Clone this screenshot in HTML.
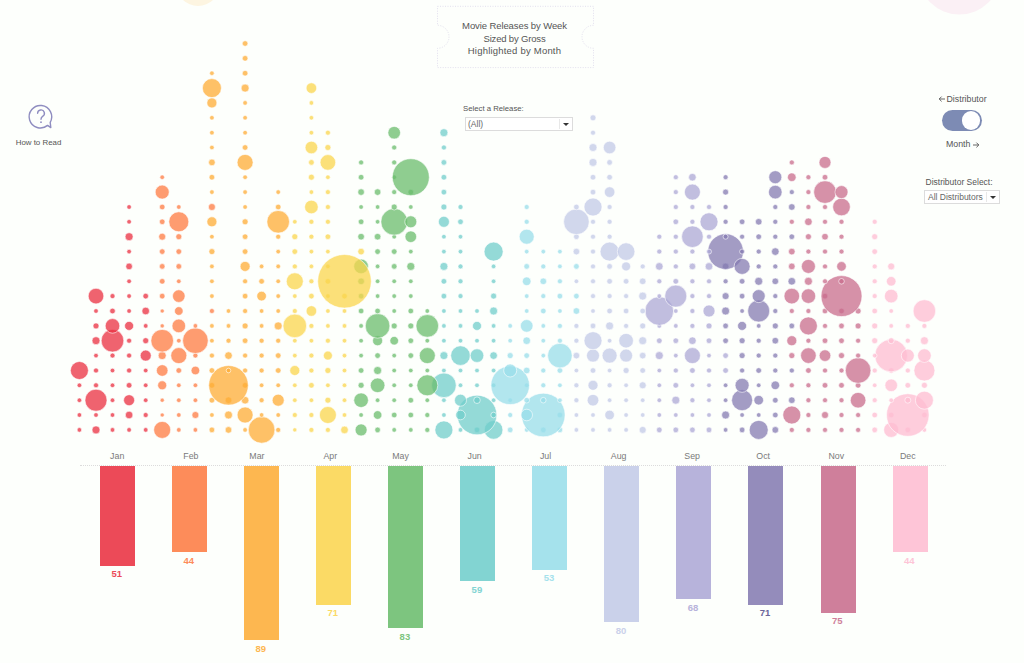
<!DOCTYPE html>
<html><head><meta charset="utf-8"><title>Movie Releases by Week</title>
<style>
html,body{margin:0;padding:0;}
body{width:1024px;height:663px;overflow:hidden;background:#fdfffc;font-family:"Liberation Sans",sans-serif;position:relative;color:#555;}
.abs{position:absolute;}
#dots{position:absolute;left:0;top:0;}
#dots circle{fill-opacity:.75;stroke:#fff;stroke-opacity:.85;stroke-width:.7;}
.mn{position:absolute;top:450.6px;width:60px;text-align:center;font-size:8.8px;color:#7a7a7a;line-height:11px;}
.bar{position:absolute;top:466px;width:35px;}
.bv{position:absolute;width:60px;text-align:center;font-size:9.5px;font-weight:bold;line-height:11px;}
.axis{position:absolute;left:80px;top:465.4px;width:866px;height:0;border-top:1px dotted #dcdcdc;}
.title{position:absolute;left:437px;top:6px;width:157px;height:61px;}
.title div{position:absolute;left:0;width:157px;text-align:center;font-size:9.5px;color:#555;line-height:12px;}
.lbl{position:absolute;font-size:8px;color:#555;white-space:nowrap;line-height:10px;}
.dd{position:absolute;box-sizing:border-box;border:1px solid #dcdcdc;background:#fff;font-size:8.5px;color:#666;line-height:12.5px;padding-left:2px;white-space:nowrap;}
.dd i{position:absolute;right:3px;top:5px;width:0;height:0;border-left:3px solid transparent;border-right:3px solid transparent;border-top:3.5px solid #333;}
.dd b{position:absolute;right:12px;top:1px;bottom:1px;width:0;border-left:1px solid #e8e8e8;}
</style></head><body>
<svg id="deco" class="abs" style="left:0;top:0" width="1024" height="40">
<circle cx="198" cy="-15.8" r="21.8" fill="#fdf5e1"/>
<circle cx="959.4" cy="-26.4" r="41" fill="#fbf0f5"/>
</svg>
<svg class="title" viewBox="0 0 157 61" width="157" height="61" style="overflow:visible">
<path d="M0.5 0.3 H156.5 V19.3 A11.5 11.5 0 0 0 156.5 42.3 V61.6 H0.5 V42.3 A11.5 11.5 0 0 0 0.5 19.3 Z" fill="none" stroke="#e2dfee" stroke-width="1" stroke-dasharray="1 1.5"/>
</svg>
<div class="title" style="left:436px"><div style="top:13.7px;letter-spacing:-0.1px">Movie Releases by Week</div><div style="top:26.5px;letter-spacing:-0.17px">Sized by Gross</div><div style="top:38.6px;letter-spacing:0.21px">Highlighted by Month</div></div>

<svg class="abs" style="left:24.6px;top:100px" width="32" height="34" viewBox="0 0 32 34">
<path d="M22.6 25.4 A11.25 11.25 0 1 1 25.2 22.3 L25.8 27.6 Z" fill="none" stroke="#8f8dc0" stroke-width="1.4" stroke-linejoin="round"/>
<path d="M12.6 13.2 A3.4 3.4 0 1 1 17.6 16.3 Q16 17.3 16 19.2" fill="none" stroke="#8f8dc0" stroke-width="1.4" stroke-linecap="round"/>
<circle cx="16" cy="22.2" r="0.9" fill="#8f8dc0"/>
</svg>
<div class="lbl" style="left:0;width:77px;text-align:center;top:137.6px;font-size:7.9px">How to Read</div>

<div class="lbl" style="left:463px;top:103.7px;font-size:7.75px">Select a Release:</div>
<div class="dd" style="left:465px;top:117px;width:108px;height:14px;">(All)<b></b><i></i></div>

<div class="lbl" style="left:946.5px;top:94.3px;font-size:8.8px">Distributor</div><svg class="abs" style="left:937.5px;top:94.8px" width="8" height="8" viewBox="0 0 8 8"><path d="M7 4 H1.2 M3.6 1.6 L1.2 4 L3.6 6.4" fill="none" stroke="#555" stroke-width="0.9"/></svg>
<div class="abs" style="left:941.6px;top:110.2px;width:40px;height:21px;border-radius:11px;background:#7d8bb4;"><div class="abs" style="right:1.3px;top:1.3px;width:18.4px;height:18.4px;border-radius:50%;background:#fff;"></div></div>
<div class="lbl" style="left:946px;top:139.3px;font-size:8.8px">Month</div><svg class="abs" style="left:971.5px;top:140.5px" width="8" height="8" viewBox="0 0 8 8"><path d="M1 4 H6.8 M4.4 1.6 L6.8 4 L4.4 6.4" fill="none" stroke="#555" stroke-width="0.9"/></svg>
<div class="lbl" style="left:925.5px;top:177px;font-size:8.5px">Distributor Select:</div>
<div class="dd" style="left:924px;top:190px;width:76px;height:14px;padding-left:3px">All Distributors<b></b><i></i></div>

<svg id="dots" width="1024" height="463" viewBox="0 0 1024 463">
<circle cx="261.6" cy="429.9" r="13.3" fill="#fdac36"/>
<circle cx="758.7" cy="429.9" r="9.5" fill="#847bb1"/>
<circle cx="493.6" cy="429.9" r="9.3" fill="#70cecb"/>
<circle cx="443.9" cy="429.9" r="9.0" fill="#70cecb"/>
<circle cx="162.2" cy="429.9" r="8.5" fill="#fd7b42"/>
<circle cx="891.2" cy="429.9" r="7.5" fill="#febcd1"/>
<circle cx="361.1" cy="429.9" r="6.0" fill="#6abc6c"/>
<circle cx="96.0" cy="429.9" r="4.0" fill="#e92f40"/>
<circle cx="344.5" cy="429.9" r="3.8" fill="#fad54e"/>
<circle cx="642.7" cy="429.9" r="3.5" fill="#c2cae7"/>
<circle cx="228.5" cy="429.9" r="3.3" fill="#fdac36"/>
<circle cx="775.3" cy="429.9" r="3.3" fill="#847bb1"/>
<circle cx="211.9" cy="429.9" r="2.8" fill="#fdac36"/>
<circle cx="377.6" cy="429.9" r="2.8" fill="#6abc6c"/>
<circle cx="477.0" cy="429.9" r="2.8" fill="#70cecb"/>
<circle cx="510.2" cy="429.9" r="2.8" fill="#98dee9"/>
<circle cx="543.3" cy="429.9" r="2.8" fill="#98dee9"/>
<circle cx="559.9" cy="429.9" r="2.8" fill="#98dee9"/>
<circle cx="659.3" cy="429.9" r="2.8" fill="#aca8d6"/>
<circle cx="675.8" cy="429.9" r="2.8" fill="#aca8d6"/>
<circle cx="692.4" cy="429.9" r="2.8" fill="#aca8d6"/>
<circle cx="709.0" cy="429.9" r="2.8" fill="#aca8d6"/>
<circle cx="742.1" cy="429.9" r="2.8" fill="#847bb1"/>
<circle cx="874.7" cy="429.9" r="2.8" fill="#febcd1"/>
<circle cx="907.8" cy="429.9" r="2.8" fill="#febcd1"/>
<circle cx="278.2" cy="429.9" r="2.5" fill="#fdac36"/>
<circle cx="311.4" cy="429.9" r="2.5" fill="#fad54e"/>
<circle cx="327.9" cy="429.9" r="2.5" fill="#fad54e"/>
<circle cx="427.3" cy="429.9" r="2.5" fill="#6abc6c"/>
<circle cx="791.8" cy="429.9" r="2.5" fill="#c86c8c"/>
<circle cx="808.4" cy="429.9" r="2.5" fill="#c86c8c"/>
<circle cx="825.0" cy="429.9" r="2.5" fill="#c86c8c"/>
<circle cx="841.5" cy="429.9" r="2.5" fill="#c86c8c"/>
<circle cx="858.1" cy="429.9" r="2.5" fill="#c86c8c"/>
<circle cx="79.4" cy="429.9" r="2.3" fill="#e92f40"/>
<circle cx="112.5" cy="429.9" r="2.3" fill="#e92f40"/>
<circle cx="129.1" cy="429.9" r="2.3" fill="#e92f40"/>
<circle cx="145.7" cy="429.9" r="2.3" fill="#e92f40"/>
<circle cx="178.8" cy="429.9" r="2.3" fill="#fd7b42"/>
<circle cx="195.4" cy="429.9" r="2.3" fill="#fd7b42"/>
<circle cx="245.1" cy="429.9" r="2.3" fill="#fdac36"/>
<circle cx="394.2" cy="429.9" r="2.3" fill="#6abc6c"/>
<circle cx="410.8" cy="429.9" r="2.3" fill="#6abc6c"/>
<circle cx="460.5" cy="429.9" r="2.3" fill="#70cecb"/>
<circle cx="526.7" cy="429.9" r="2.3" fill="#98dee9"/>
<circle cx="576.4" cy="429.9" r="2.3" fill="#c2cae7"/>
<circle cx="593.0" cy="429.9" r="2.3" fill="#c2cae7"/>
<circle cx="609.6" cy="429.9" r="2.3" fill="#c2cae7"/>
<circle cx="626.1" cy="429.9" r="2.3" fill="#c2cae7"/>
<circle cx="725.6" cy="429.9" r="2.3" fill="#847bb1"/>
<circle cx="924.4" cy="429.9" r="2.3" fill="#febcd1"/>
<circle cx="294.8" cy="429.9" r="2.1" fill="#fad54e"/>
<circle cx="559.9" cy="415.0" r="2.8" fill="#98dee9"/>
<circle cx="891.2" cy="415.0" r="2.8" fill="#febcd1"/>
<circle cx="924.4" cy="415.0" r="2.8" fill="#febcd1"/>
<circle cx="543.3" cy="415.0" r="21.8" fill="#98dee9"/>
<circle cx="907.8" cy="415.0" r="21.3" fill="#febcd1"/>
<circle cx="477.0" cy="415.0" r="19.8" fill="#70cecb"/>
<circle cx="791.8" cy="415.0" r="9.0" fill="#c86c8c"/>
<circle cx="327.9" cy="415.0" r="8.5" fill="#fad54e"/>
<circle cx="245.1" cy="415.0" r="8.0" fill="#fdac36"/>
<circle cx="526.7" cy="415.0" r="5.8" fill="#98dee9"/>
<circle cx="460.5" cy="415.0" r="4.8" fill="#70cecb"/>
<circle cx="609.6" cy="415.0" r="4.8" fill="#c2cae7"/>
<circle cx="377.6" cy="415.0" r="4.3" fill="#6abc6c"/>
<circle cx="228.5" cy="415.0" r="4.0" fill="#fdac36"/>
<circle cx="725.6" cy="415.0" r="4.0" fill="#847bb1"/>
<circle cx="129.1" cy="415.0" r="3.8" fill="#e92f40"/>
<circle cx="195.4" cy="415.0" r="3.5" fill="#fd7b42"/>
<circle cx="825.0" cy="415.0" r="3.5" fill="#c86c8c"/>
<circle cx="394.2" cy="415.0" r="2.8" fill="#6abc6c"/>
<circle cx="410.8" cy="415.0" r="2.8" fill="#6abc6c"/>
<circle cx="493.6" cy="415.0" r="2.8" fill="#70cecb"/>
<circle cx="775.3" cy="415.0" r="2.8" fill="#847bb1"/>
<circle cx="874.7" cy="415.0" r="2.8" fill="#febcd1"/>
<circle cx="145.7" cy="415.0" r="2.5" fill="#e92f40"/>
<circle cx="294.8" cy="415.0" r="2.5" fill="#fad54e"/>
<circle cx="311.4" cy="415.0" r="2.5" fill="#fad54e"/>
<circle cx="427.3" cy="415.0" r="2.5" fill="#6abc6c"/>
<circle cx="510.2" cy="415.0" r="2.5" fill="#98dee9"/>
<circle cx="808.4" cy="415.0" r="2.5" fill="#c86c8c"/>
<circle cx="841.5" cy="415.0" r="2.5" fill="#c86c8c"/>
<circle cx="858.1" cy="415.0" r="2.5" fill="#c86c8c"/>
<circle cx="79.4" cy="415.0" r="2.3" fill="#e92f40"/>
<circle cx="96.0" cy="415.0" r="2.3" fill="#e92f40"/>
<circle cx="112.5" cy="415.0" r="2.3" fill="#e92f40"/>
<circle cx="178.8" cy="415.0" r="2.3" fill="#fd7b42"/>
<circle cx="211.9" cy="415.0" r="2.3" fill="#fdac36"/>
<circle cx="261.6" cy="415.0" r="2.3" fill="#fdac36"/>
<circle cx="278.2" cy="415.0" r="2.3" fill="#fdac36"/>
<circle cx="344.5" cy="415.0" r="2.3" fill="#fad54e"/>
<circle cx="361.1" cy="415.0" r="2.3" fill="#6abc6c"/>
<circle cx="443.9" cy="415.0" r="2.3" fill="#70cecb"/>
<circle cx="576.4" cy="415.0" r="2.3" fill="#c2cae7"/>
<circle cx="593.0" cy="415.0" r="2.3" fill="#c2cae7"/>
<circle cx="626.1" cy="415.0" r="2.3" fill="#c2cae7"/>
<circle cx="642.7" cy="415.0" r="2.3" fill="#c2cae7"/>
<circle cx="659.3" cy="415.0" r="2.3" fill="#aca8d6"/>
<circle cx="675.8" cy="415.0" r="2.3" fill="#aca8d6"/>
<circle cx="692.4" cy="415.0" r="2.3" fill="#aca8d6"/>
<circle cx="709.0" cy="415.0" r="2.3" fill="#aca8d6"/>
<circle cx="742.1" cy="415.0" r="2.3" fill="#847bb1"/>
<circle cx="758.7" cy="415.0" r="2.3" fill="#847bb1"/>
<circle cx="162.2" cy="415.0" r="2.1" fill="#fd7b42"/>
<circle cx="96.0" cy="400.2" r="11.0" fill="#e92f40"/>
<circle cx="742.1" cy="400.2" r="10.5" fill="#847bb1"/>
<circle cx="924.4" cy="400.2" r="9.0" fill="#febcd1"/>
<circle cx="858.1" cy="400.2" r="7.8" fill="#c86c8c"/>
<circle cx="361.1" cy="400.2" r="7.3" fill="#6abc6c"/>
<circle cx="278.2" cy="400.2" r="6.0" fill="#fdac36"/>
<circle cx="460.5" cy="400.2" r="6.0" fill="#70cecb"/>
<circle cx="593.0" cy="400.2" r="5.8" fill="#c2cae7"/>
<circle cx="129.1" cy="400.2" r="5.5" fill="#e92f40"/>
<circle cx="758.7" cy="400.2" r="4.8" fill="#847bb1"/>
<circle cx="675.8" cy="400.2" r="4.0" fill="#aca8d6"/>
<circle cx="245.1" cy="400.2" r="3.8" fill="#fdac36"/>
<circle cx="228.5" cy="400.2" r="3.3" fill="#fdac36"/>
<circle cx="477.0" cy="400.2" r="3.3" fill="#70cecb"/>
<circle cx="791.8" cy="400.2" r="3.3" fill="#847bb1"/>
<circle cx="327.9" cy="400.2" r="3.0" fill="#fad54e"/>
<circle cx="907.8" cy="400.2" r="3.0" fill="#febcd1"/>
<circle cx="211.9" cy="400.2" r="2.8" fill="#fdac36"/>
<circle cx="410.8" cy="400.2" r="2.8" fill="#6abc6c"/>
<circle cx="526.7" cy="400.2" r="2.8" fill="#98dee9"/>
<circle cx="543.3" cy="400.2" r="2.8" fill="#98dee9"/>
<circle cx="775.3" cy="400.2" r="2.8" fill="#847bb1"/>
<circle cx="261.6" cy="400.2" r="2.5" fill="#fdac36"/>
<circle cx="576.4" cy="400.2" r="2.5" fill="#c2cae7"/>
<circle cx="692.4" cy="400.2" r="2.5" fill="#aca8d6"/>
<circle cx="808.4" cy="400.2" r="2.5" fill="#c86c8c"/>
<circle cx="825.0" cy="400.2" r="2.5" fill="#c86c8c"/>
<circle cx="841.5" cy="400.2" r="2.5" fill="#c86c8c"/>
<circle cx="874.7" cy="400.2" r="2.5" fill="#febcd1"/>
<circle cx="79.4" cy="400.2" r="2.3" fill="#e92f40"/>
<circle cx="112.5" cy="400.2" r="2.3" fill="#e92f40"/>
<circle cx="145.7" cy="400.2" r="2.3" fill="#e92f40"/>
<circle cx="178.8" cy="400.2" r="2.3" fill="#fd7b42"/>
<circle cx="195.4" cy="400.2" r="2.3" fill="#fd7b42"/>
<circle cx="294.8" cy="400.2" r="2.3" fill="#fad54e"/>
<circle cx="311.4" cy="400.2" r="2.3" fill="#fad54e"/>
<circle cx="344.5" cy="400.2" r="2.3" fill="#fad54e"/>
<circle cx="377.6" cy="400.2" r="2.3" fill="#6abc6c"/>
<circle cx="394.2" cy="400.2" r="2.3" fill="#6abc6c"/>
<circle cx="427.3" cy="400.2" r="2.3" fill="#6abc6c"/>
<circle cx="443.9" cy="400.2" r="2.3" fill="#70cecb"/>
<circle cx="493.6" cy="400.2" r="2.3" fill="#70cecb"/>
<circle cx="510.2" cy="400.2" r="2.3" fill="#98dee9"/>
<circle cx="559.9" cy="400.2" r="2.3" fill="#98dee9"/>
<circle cx="609.6" cy="400.2" r="2.3" fill="#c2cae7"/>
<circle cx="626.1" cy="400.2" r="2.3" fill="#c2cae7"/>
<circle cx="642.7" cy="400.2" r="2.3" fill="#c2cae7"/>
<circle cx="659.3" cy="400.2" r="2.3" fill="#aca8d6"/>
<circle cx="709.0" cy="400.2" r="2.3" fill="#aca8d6"/>
<circle cx="725.6" cy="400.2" r="2.3" fill="#847bb1"/>
<circle cx="891.2" cy="400.2" r="2.3" fill="#febcd1"/>
<circle cx="162.2" cy="400.2" r="2.1" fill="#fd7b42"/>
<circle cx="211.9" cy="385.3" r="2.8" fill="#fdac36"/>
<circle cx="245.1" cy="385.3" r="2.8" fill="#fdac36"/>
<circle cx="493.6" cy="385.3" r="2.3" fill="#70cecb"/>
<circle cx="526.7" cy="385.3" r="2.3" fill="#98dee9"/>
<circle cx="228.5" cy="385.3" r="19.8" fill="#fdac36"/>
<circle cx="510.2" cy="385.3" r="19.3" fill="#98dee9"/>
<circle cx="443.9" cy="385.3" r="12.3" fill="#70cecb"/>
<circle cx="427.3" cy="385.3" r="10.5" fill="#6abc6c"/>
<circle cx="377.6" cy="385.3" r="7.3" fill="#6abc6c"/>
<circle cx="742.1" cy="385.3" r="7.0" fill="#847bb1"/>
<circle cx="891.2" cy="385.3" r="6.3" fill="#febcd1"/>
<circle cx="593.0" cy="385.3" r="5.0" fill="#c2cae7"/>
<circle cx="162.2" cy="385.3" r="4.5" fill="#fd7b42"/>
<circle cx="775.3" cy="385.3" r="4.3" fill="#847bb1"/>
<circle cx="642.7" cy="385.3" r="3.5" fill="#c2cae7"/>
<circle cx="361.1" cy="385.3" r="3.0" fill="#6abc6c"/>
<circle cx="924.4" cy="385.3" r="3.0" fill="#febcd1"/>
<circle cx="129.1" cy="385.3" r="2.8" fill="#e92f40"/>
<circle cx="311.4" cy="385.3" r="2.8" fill="#fad54e"/>
<circle cx="675.8" cy="385.3" r="2.8" fill="#aca8d6"/>
<circle cx="825.0" cy="385.3" r="2.8" fill="#c86c8c"/>
<circle cx="841.5" cy="385.3" r="2.8" fill="#c86c8c"/>
<circle cx="858.1" cy="385.3" r="2.8" fill="#c86c8c"/>
<circle cx="907.8" cy="385.3" r="2.8" fill="#febcd1"/>
<circle cx="96.0" cy="385.3" r="2.5" fill="#e92f40"/>
<circle cx="543.3" cy="385.3" r="2.5" fill="#98dee9"/>
<circle cx="576.4" cy="385.3" r="2.5" fill="#c2cae7"/>
<circle cx="609.6" cy="385.3" r="2.5" fill="#c2cae7"/>
<circle cx="791.8" cy="385.3" r="2.5" fill="#c86c8c"/>
<circle cx="808.4" cy="385.3" r="2.5" fill="#c86c8c"/>
<circle cx="79.4" cy="385.3" r="2.3" fill="#e92f40"/>
<circle cx="112.5" cy="385.3" r="2.3" fill="#e92f40"/>
<circle cx="145.7" cy="385.3" r="2.3" fill="#e92f40"/>
<circle cx="178.8" cy="385.3" r="2.3" fill="#fd7b42"/>
<circle cx="195.4" cy="385.3" r="2.3" fill="#fd7b42"/>
<circle cx="261.6" cy="385.3" r="2.3" fill="#fdac36"/>
<circle cx="278.2" cy="385.3" r="2.3" fill="#fdac36"/>
<circle cx="294.8" cy="385.3" r="2.3" fill="#fad54e"/>
<circle cx="327.9" cy="385.3" r="2.3" fill="#fad54e"/>
<circle cx="344.5" cy="385.3" r="2.3" fill="#fad54e"/>
<circle cx="394.2" cy="385.3" r="2.3" fill="#6abc6c"/>
<circle cx="410.8" cy="385.3" r="2.3" fill="#6abc6c"/>
<circle cx="460.5" cy="385.3" r="2.3" fill="#70cecb"/>
<circle cx="477.0" cy="385.3" r="2.3" fill="#70cecb"/>
<circle cx="559.9" cy="385.3" r="2.3" fill="#98dee9"/>
<circle cx="626.1" cy="385.3" r="2.3" fill="#c2cae7"/>
<circle cx="659.3" cy="385.3" r="2.3" fill="#aca8d6"/>
<circle cx="692.4" cy="385.3" r="2.3" fill="#aca8d6"/>
<circle cx="709.0" cy="385.3" r="2.3" fill="#aca8d6"/>
<circle cx="725.6" cy="385.3" r="2.3" fill="#847bb1"/>
<circle cx="758.7" cy="385.3" r="2.3" fill="#847bb1"/>
<circle cx="874.7" cy="385.3" r="2.3" fill="#febcd1"/>
<circle cx="858.1" cy="370.5" r="12.8" fill="#c86c8c"/>
<circle cx="924.4" cy="370.5" r="10.5" fill="#febcd1"/>
<circle cx="79.4" cy="370.5" r="9.0" fill="#e92f40"/>
<circle cx="510.2" cy="370.5" r="6.5" fill="#98dee9"/>
<circle cx="162.2" cy="370.5" r="5.8" fill="#fd7b42"/>
<circle cx="294.8" cy="370.5" r="5.0" fill="#fad54e"/>
<circle cx="195.4" cy="370.5" r="4.3" fill="#fd7b42"/>
<circle cx="377.6" cy="370.5" r="4.0" fill="#6abc6c"/>
<circle cx="526.7" cy="370.5" r="3.3" fill="#98dee9"/>
<circle cx="327.9" cy="370.5" r="3.0" fill="#fad54e"/>
<circle cx="626.1" cy="370.5" r="3.0" fill="#c2cae7"/>
<circle cx="178.8" cy="370.5" r="2.8" fill="#fd7b42"/>
<circle cx="211.9" cy="370.5" r="2.8" fill="#fdac36"/>
<circle cx="278.2" cy="370.5" r="2.8" fill="#fdac36"/>
<circle cx="361.1" cy="370.5" r="2.8" fill="#6abc6c"/>
<circle cx="559.9" cy="370.5" r="2.8" fill="#98dee9"/>
<circle cx="593.0" cy="370.5" r="2.8" fill="#c2cae7"/>
<circle cx="642.7" cy="370.5" r="2.8" fill="#c2cae7"/>
<circle cx="692.4" cy="370.5" r="2.8" fill="#aca8d6"/>
<circle cx="725.6" cy="370.5" r="2.8" fill="#aca8d6"/>
<circle cx="758.7" cy="370.5" r="2.8" fill="#847bb1"/>
<circle cx="808.4" cy="370.5" r="2.8" fill="#c86c8c"/>
<circle cx="891.2" cy="370.5" r="2.8" fill="#febcd1"/>
<circle cx="96.0" cy="370.5" r="2.5" fill="#e92f40"/>
<circle cx="129.1" cy="370.5" r="2.5" fill="#e92f40"/>
<circle cx="245.1" cy="370.5" r="2.5" fill="#fdac36"/>
<circle cx="261.6" cy="370.5" r="2.5" fill="#fdac36"/>
<circle cx="311.4" cy="370.5" r="2.5" fill="#fad54e"/>
<circle cx="543.3" cy="370.5" r="2.5" fill="#98dee9"/>
<circle cx="675.8" cy="370.5" r="2.5" fill="#aca8d6"/>
<circle cx="709.0" cy="370.5" r="2.5" fill="#aca8d6"/>
<circle cx="742.1" cy="370.5" r="2.5" fill="#847bb1"/>
<circle cx="775.3" cy="370.5" r="2.5" fill="#847bb1"/>
<circle cx="791.8" cy="370.5" r="2.5" fill="#847bb1"/>
<circle cx="825.0" cy="370.5" r="2.5" fill="#c86c8c"/>
<circle cx="841.5" cy="370.5" r="2.5" fill="#c86c8c"/>
<circle cx="874.7" cy="370.5" r="2.5" fill="#febcd1"/>
<circle cx="907.8" cy="370.5" r="2.5" fill="#febcd1"/>
<circle cx="112.5" cy="370.5" r="2.3" fill="#e92f40"/>
<circle cx="145.7" cy="370.5" r="2.3" fill="#e92f40"/>
<circle cx="228.5" cy="370.5" r="2.3" fill="#fdac36"/>
<circle cx="344.5" cy="370.5" r="2.3" fill="#fad54e"/>
<circle cx="394.2" cy="370.5" r="2.3" fill="#6abc6c"/>
<circle cx="410.8" cy="370.5" r="2.3" fill="#6abc6c"/>
<circle cx="427.3" cy="370.5" r="2.3" fill="#6abc6c"/>
<circle cx="443.9" cy="370.5" r="2.3" fill="#70cecb"/>
<circle cx="460.5" cy="370.5" r="2.3" fill="#70cecb"/>
<circle cx="477.0" cy="370.5" r="2.3" fill="#70cecb"/>
<circle cx="493.6" cy="370.5" r="2.3" fill="#70cecb"/>
<circle cx="576.4" cy="370.5" r="2.3" fill="#c2cae7"/>
<circle cx="609.6" cy="370.5" r="2.3" fill="#c2cae7"/>
<circle cx="659.3" cy="370.5" r="2.3" fill="#aca8d6"/>
<circle cx="891.2" cy="355.6" r="16.3" fill="#febcd1"/>
<circle cx="559.9" cy="355.6" r="12.3" fill="#98dee9"/>
<circle cx="460.5" cy="355.6" r="9.8" fill="#70cecb"/>
<circle cx="178.8" cy="355.6" r="8.0" fill="#fd7b42"/>
<circle cx="427.3" cy="355.6" r="8.0" fill="#6abc6c"/>
<circle cx="692.4" cy="355.6" r="8.0" fill="#aca8d6"/>
<circle cx="808.4" cy="355.6" r="7.8" fill="#c86c8c"/>
<circle cx="609.6" cy="355.6" r="7.5" fill="#c2cae7"/>
<circle cx="477.0" cy="355.6" r="6.8" fill="#70cecb"/>
<circle cx="924.4" cy="355.6" r="6.8" fill="#febcd1"/>
<circle cx="593.0" cy="355.6" r="6.5" fill="#c2cae7"/>
<circle cx="626.1" cy="355.6" r="6.5" fill="#c2cae7"/>
<circle cx="907.8" cy="355.6" r="6.5" fill="#febcd1"/>
<circle cx="825.0" cy="355.6" r="5.8" fill="#c86c8c"/>
<circle cx="145.7" cy="355.6" r="5.5" fill="#e92f40"/>
<circle cx="327.9" cy="355.6" r="4.5" fill="#fad54e"/>
<circle cx="162.2" cy="355.6" r="4.0" fill="#fd7b42"/>
<circle cx="443.9" cy="355.6" r="4.0" fill="#70cecb"/>
<circle cx="659.3" cy="355.6" r="4.0" fill="#aca8d6"/>
<circle cx="228.5" cy="355.6" r="3.8" fill="#fdac36"/>
<circle cx="493.6" cy="355.6" r="3.8" fill="#70cecb"/>
<circle cx="576.4" cy="355.6" r="3.3" fill="#c2cae7"/>
<circle cx="642.7" cy="355.6" r="3.3" fill="#c2cae7"/>
<circle cx="510.2" cy="355.6" r="3.0" fill="#98dee9"/>
<circle cx="742.1" cy="355.6" r="3.0" fill="#847bb1"/>
<circle cx="791.8" cy="355.6" r="3.0" fill="#c86c8c"/>
<circle cx="841.5" cy="355.6" r="3.0" fill="#c86c8c"/>
<circle cx="278.2" cy="355.6" r="2.8" fill="#fdac36"/>
<circle cx="377.6" cy="355.6" r="2.8" fill="#6abc6c"/>
<circle cx="410.8" cy="355.6" r="2.8" fill="#6abc6c"/>
<circle cx="526.7" cy="355.6" r="2.8" fill="#98dee9"/>
<circle cx="725.6" cy="355.6" r="2.8" fill="#aca8d6"/>
<circle cx="112.5" cy="355.6" r="2.5" fill="#e92f40"/>
<circle cx="129.1" cy="355.6" r="2.5" fill="#e92f40"/>
<circle cx="195.4" cy="355.6" r="2.5" fill="#fd7b42"/>
<circle cx="211.9" cy="355.6" r="2.5" fill="#fdac36"/>
<circle cx="245.1" cy="355.6" r="2.5" fill="#fdac36"/>
<circle cx="261.6" cy="355.6" r="2.5" fill="#fdac36"/>
<circle cx="311.4" cy="355.6" r="2.5" fill="#fad54e"/>
<circle cx="758.7" cy="355.6" r="2.5" fill="#847bb1"/>
<circle cx="775.3" cy="355.6" r="2.5" fill="#847bb1"/>
<circle cx="858.1" cy="355.6" r="2.5" fill="#c86c8c"/>
<circle cx="96.0" cy="355.6" r="2.3" fill="#e92f40"/>
<circle cx="294.8" cy="355.6" r="2.3" fill="#fad54e"/>
<circle cx="344.5" cy="355.6" r="2.3" fill="#fad54e"/>
<circle cx="361.1" cy="355.6" r="2.3" fill="#6abc6c"/>
<circle cx="394.2" cy="355.6" r="2.3" fill="#6abc6c"/>
<circle cx="543.3" cy="355.6" r="2.3" fill="#98dee9"/>
<circle cx="675.8" cy="355.6" r="2.3" fill="#aca8d6"/>
<circle cx="709.0" cy="355.6" r="2.3" fill="#aca8d6"/>
<circle cx="874.7" cy="355.6" r="2.3" fill="#febcd1"/>
<circle cx="195.4" cy="340.7" r="12.8" fill="#fd7b42"/>
<circle cx="112.5" cy="340.7" r="11.3" fill="#e92f40"/>
<circle cx="162.2" cy="340.7" r="11.3" fill="#fd7b42"/>
<circle cx="593.0" cy="340.7" r="9.0" fill="#c2cae7"/>
<circle cx="626.1" cy="340.7" r="7.3" fill="#c2cae7"/>
<circle cx="377.6" cy="340.7" r="5.0" fill="#6abc6c"/>
<circle cx="791.8" cy="340.7" r="5.0" fill="#c86c8c"/>
<circle cx="394.2" cy="340.7" r="4.3" fill="#6abc6c"/>
<circle cx="96.0" cy="340.7" r="4.0" fill="#e92f40"/>
<circle cx="642.7" cy="340.7" r="4.0" fill="#c2cae7"/>
<circle cx="924.4" cy="340.7" r="4.0" fill="#febcd1"/>
<circle cx="526.7" cy="340.7" r="3.8" fill="#98dee9"/>
<circle cx="692.4" cy="340.7" r="3.8" fill="#aca8d6"/>
<circle cx="775.3" cy="340.7" r="3.3" fill="#847bb1"/>
<circle cx="145.7" cy="340.7" r="3.0" fill="#e92f40"/>
<circle cx="742.1" cy="340.7" r="3.0" fill="#847bb1"/>
<circle cx="874.7" cy="340.7" r="3.0" fill="#febcd1"/>
<circle cx="891.2" cy="340.7" r="3.0" fill="#febcd1"/>
<circle cx="245.1" cy="340.7" r="2.8" fill="#fdac36"/>
<circle cx="410.8" cy="340.7" r="2.8" fill="#6abc6c"/>
<circle cx="659.3" cy="340.7" r="2.8" fill="#aca8d6"/>
<circle cx="675.8" cy="340.7" r="2.8" fill="#aca8d6"/>
<circle cx="709.0" cy="340.7" r="2.8" fill="#aca8d6"/>
<circle cx="725.6" cy="340.7" r="2.8" fill="#847bb1"/>
<circle cx="825.0" cy="340.7" r="2.8" fill="#c86c8c"/>
<circle cx="841.5" cy="340.7" r="2.8" fill="#c86c8c"/>
<circle cx="129.1" cy="340.7" r="2.5" fill="#e92f40"/>
<circle cx="228.5" cy="340.7" r="2.5" fill="#fdac36"/>
<circle cx="261.6" cy="340.7" r="2.5" fill="#fdac36"/>
<circle cx="278.2" cy="340.7" r="2.5" fill="#fdac36"/>
<circle cx="327.9" cy="340.7" r="2.5" fill="#fad54e"/>
<circle cx="559.9" cy="340.7" r="2.5" fill="#98dee9"/>
<circle cx="576.4" cy="340.7" r="2.5" fill="#c2cae7"/>
<circle cx="758.7" cy="340.7" r="2.5" fill="#847bb1"/>
<circle cx="808.4" cy="340.7" r="2.5" fill="#c86c8c"/>
<circle cx="858.1" cy="340.7" r="2.5" fill="#c86c8c"/>
<circle cx="907.8" cy="340.7" r="2.5" fill="#febcd1"/>
<circle cx="178.8" cy="340.7" r="2.3" fill="#fd7b42"/>
<circle cx="211.9" cy="340.7" r="2.3" fill="#fdac36"/>
<circle cx="294.8" cy="340.7" r="2.3" fill="#fad54e"/>
<circle cx="311.4" cy="340.7" r="2.3" fill="#fad54e"/>
<circle cx="344.5" cy="340.7" r="2.3" fill="#fad54e"/>
<circle cx="361.1" cy="340.7" r="2.3" fill="#6abc6c"/>
<circle cx="427.3" cy="340.7" r="2.3" fill="#6abc6c"/>
<circle cx="443.9" cy="340.7" r="2.3" fill="#70cecb"/>
<circle cx="460.5" cy="340.7" r="2.3" fill="#70cecb"/>
<circle cx="477.0" cy="340.7" r="2.3" fill="#70cecb"/>
<circle cx="493.6" cy="340.7" r="2.3" fill="#70cecb"/>
<circle cx="510.2" cy="340.7" r="2.3" fill="#98dee9"/>
<circle cx="543.3" cy="340.7" r="2.3" fill="#98dee9"/>
<circle cx="609.6" cy="340.7" r="2.3" fill="#c2cae7"/>
<circle cx="377.6" cy="325.9" r="12.3" fill="#6abc6c"/>
<circle cx="294.8" cy="325.9" r="11.8" fill="#fad54e"/>
<circle cx="427.3" cy="325.9" r="11.3" fill="#6abc6c"/>
<circle cx="808.4" cy="325.9" r="9.0" fill="#c86c8c"/>
<circle cx="112.5" cy="325.9" r="7.3" fill="#e92f40"/>
<circle cx="178.8" cy="325.9" r="6.8" fill="#fd7b42"/>
<circle cx="526.7" cy="325.9" r="6.3" fill="#98dee9"/>
<circle cx="129.1" cy="325.9" r="4.5" fill="#e92f40"/>
<circle cx="477.0" cy="325.9" r="4.5" fill="#70cecb"/>
<circle cx="742.1" cy="325.9" r="4.5" fill="#847bb1"/>
<circle cx="278.2" cy="325.9" r="4.0" fill="#fdac36"/>
<circle cx="609.6" cy="325.9" r="4.0" fill="#c2cae7"/>
<circle cx="96.0" cy="325.9" r="3.0" fill="#e92f40"/>
<circle cx="245.1" cy="325.9" r="3.0" fill="#fdac36"/>
<circle cx="394.2" cy="325.9" r="3.0" fill="#6abc6c"/>
<circle cx="410.8" cy="325.9" r="3.0" fill="#6abc6c"/>
<circle cx="642.7" cy="325.9" r="3.0" fill="#c2cae7"/>
<circle cx="709.0" cy="325.9" r="3.0" fill="#aca8d6"/>
<circle cx="775.3" cy="325.9" r="3.0" fill="#847bb1"/>
<circle cx="858.1" cy="325.9" r="3.0" fill="#c86c8c"/>
<circle cx="874.7" cy="325.9" r="3.0" fill="#febcd1"/>
<circle cx="593.0" cy="325.9" r="2.8" fill="#c2cae7"/>
<circle cx="725.6" cy="325.9" r="2.8" fill="#847bb1"/>
<circle cx="791.8" cy="325.9" r="2.8" fill="#847bb1"/>
<circle cx="841.5" cy="325.9" r="2.8" fill="#c86c8c"/>
<circle cx="311.4" cy="325.9" r="2.5" fill="#fad54e"/>
<circle cx="559.9" cy="325.9" r="2.5" fill="#98dee9"/>
<circle cx="576.4" cy="325.9" r="2.5" fill="#c2cae7"/>
<circle cx="626.1" cy="325.9" r="2.5" fill="#c2cae7"/>
<circle cx="692.4" cy="325.9" r="2.5" fill="#aca8d6"/>
<circle cx="825.0" cy="325.9" r="2.5" fill="#c86c8c"/>
<circle cx="907.8" cy="325.9" r="2.5" fill="#febcd1"/>
<circle cx="924.4" cy="325.9" r="2.5" fill="#febcd1"/>
<circle cx="145.7" cy="325.9" r="2.3" fill="#e92f40"/>
<circle cx="195.4" cy="325.9" r="2.3" fill="#fd7b42"/>
<circle cx="211.9" cy="325.9" r="2.3" fill="#fdac36"/>
<circle cx="228.5" cy="325.9" r="2.3" fill="#fdac36"/>
<circle cx="261.6" cy="325.9" r="2.3" fill="#fdac36"/>
<circle cx="327.9" cy="325.9" r="2.3" fill="#fad54e"/>
<circle cx="344.5" cy="325.9" r="2.3" fill="#fad54e"/>
<circle cx="361.1" cy="325.9" r="2.3" fill="#6abc6c"/>
<circle cx="443.9" cy="325.9" r="2.3" fill="#70cecb"/>
<circle cx="460.5" cy="325.9" r="2.3" fill="#70cecb"/>
<circle cx="493.6" cy="325.9" r="2.3" fill="#70cecb"/>
<circle cx="510.2" cy="325.9" r="2.3" fill="#98dee9"/>
<circle cx="543.3" cy="325.9" r="2.3" fill="#98dee9"/>
<circle cx="659.3" cy="325.9" r="2.3" fill="#aca8d6"/>
<circle cx="675.8" cy="325.9" r="2.3" fill="#aca8d6"/>
<circle cx="758.7" cy="325.9" r="2.3" fill="#847bb1"/>
<circle cx="891.2" cy="325.9" r="2.3" fill="#febcd1"/>
<circle cx="162.2" cy="325.9" r="2.1" fill="#fd7b42"/>
<circle cx="659.3" cy="311.0" r="14.3" fill="#aca8d6"/>
<circle cx="924.4" cy="311.0" r="11.3" fill="#febcd1"/>
<circle cx="758.7" cy="311.0" r="11.0" fill="#847bb1"/>
<circle cx="709.0" cy="311.0" r="6.0" fill="#aca8d6"/>
<circle cx="311.4" cy="311.0" r="5.3" fill="#fad54e"/>
<circle cx="178.8" cy="311.0" r="4.3" fill="#fd7b42"/>
<circle cx="493.6" cy="311.0" r="4.0" fill="#70cecb"/>
<circle cx="725.6" cy="311.0" r="4.0" fill="#847bb1"/>
<circle cx="145.7" cy="311.0" r="3.8" fill="#e92f40"/>
<circle cx="576.4" cy="311.0" r="3.3" fill="#98dee9"/>
<circle cx="858.1" cy="311.0" r="3.0" fill="#c86c8c"/>
<circle cx="112.5" cy="311.0" r="2.8" fill="#e92f40"/>
<circle cx="361.1" cy="311.0" r="2.8" fill="#6abc6c"/>
<circle cx="377.6" cy="311.0" r="2.8" fill="#6abc6c"/>
<circle cx="410.8" cy="311.0" r="2.8" fill="#6abc6c"/>
<circle cx="543.3" cy="311.0" r="2.8" fill="#98dee9"/>
<circle cx="609.6" cy="311.0" r="2.8" fill="#c2cae7"/>
<circle cx="626.1" cy="311.0" r="2.8" fill="#c2cae7"/>
<circle cx="642.7" cy="311.0" r="2.8" fill="#c2cae7"/>
<circle cx="825.0" cy="311.0" r="2.8" fill="#c86c8c"/>
<circle cx="841.5" cy="311.0" r="2.8" fill="#c86c8c"/>
<circle cx="874.7" cy="311.0" r="2.8" fill="#febcd1"/>
<circle cx="211.9" cy="311.0" r="2.5" fill="#fd7b42"/>
<circle cx="245.1" cy="311.0" r="2.5" fill="#fdac36"/>
<circle cx="294.8" cy="311.0" r="2.5" fill="#fad54e"/>
<circle cx="692.4" cy="311.0" r="2.5" fill="#aca8d6"/>
<circle cx="775.3" cy="311.0" r="2.5" fill="#847bb1"/>
<circle cx="791.8" cy="311.0" r="2.5" fill="#c86c8c"/>
<circle cx="808.4" cy="311.0" r="2.5" fill="#c86c8c"/>
<circle cx="96.0" cy="311.0" r="2.3" fill="#e92f40"/>
<circle cx="129.1" cy="311.0" r="2.3" fill="#e92f40"/>
<circle cx="228.5" cy="311.0" r="2.3" fill="#fdac36"/>
<circle cx="261.6" cy="311.0" r="2.3" fill="#fdac36"/>
<circle cx="278.2" cy="311.0" r="2.3" fill="#fdac36"/>
<circle cx="327.9" cy="311.0" r="2.3" fill="#fad54e"/>
<circle cx="344.5" cy="311.0" r="2.3" fill="#fad54e"/>
<circle cx="394.2" cy="311.0" r="2.3" fill="#6abc6c"/>
<circle cx="427.3" cy="311.0" r="2.3" fill="#6abc6c"/>
<circle cx="443.9" cy="311.0" r="2.3" fill="#70cecb"/>
<circle cx="460.5" cy="311.0" r="2.3" fill="#70cecb"/>
<circle cx="477.0" cy="311.0" r="2.3" fill="#70cecb"/>
<circle cx="526.7" cy="311.0" r="2.3" fill="#98dee9"/>
<circle cx="559.9" cy="311.0" r="2.3" fill="#98dee9"/>
<circle cx="593.0" cy="311.0" r="2.3" fill="#c2cae7"/>
<circle cx="675.8" cy="311.0" r="2.3" fill="#aca8d6"/>
<circle cx="742.1" cy="311.0" r="2.3" fill="#847bb1"/>
<circle cx="891.2" cy="311.0" r="2.3" fill="#febcd1"/>
<circle cx="162.2" cy="311.0" r="2.1" fill="#fd7b42"/>
<circle cx="825.0" cy="296.1" r="2.8" fill="#c86c8c"/>
<circle cx="841.5" cy="296.1" r="20.5" fill="#c86c8c"/>
<circle cx="675.8" cy="296.1" r="11.0" fill="#aca8d6"/>
<circle cx="96.0" cy="296.1" r="7.8" fill="#e92f40"/>
<circle cx="791.8" cy="296.1" r="7.8" fill="#c86c8c"/>
<circle cx="808.4" cy="296.1" r="7.3" fill="#c86c8c"/>
<circle cx="891.2" cy="296.1" r="6.8" fill="#febcd1"/>
<circle cx="758.7" cy="296.1" r="6.5" fill="#847bb1"/>
<circle cx="178.8" cy="296.1" r="6.3" fill="#fd7b42"/>
<circle cx="261.6" cy="296.1" r="4.8" fill="#fdac36"/>
<circle cx="642.7" cy="296.1" r="4.0" fill="#c2cae7"/>
<circle cx="725.6" cy="296.1" r="3.5" fill="#847bb1"/>
<circle cx="493.6" cy="296.1" r="3.0" fill="#70cecb"/>
<circle cx="145.7" cy="296.1" r="2.8" fill="#e92f40"/>
<circle cx="162.2" cy="296.1" r="2.8" fill="#fd7b42"/>
<circle cx="245.1" cy="296.1" r="2.8" fill="#fdac36"/>
<circle cx="311.4" cy="296.1" r="2.8" fill="#fad54e"/>
<circle cx="344.5" cy="296.1" r="2.8" fill="#fad54e"/>
<circle cx="361.1" cy="296.1" r="2.8" fill="#6abc6c"/>
<circle cx="443.9" cy="296.1" r="2.8" fill="#70cecb"/>
<circle cx="559.9" cy="296.1" r="2.8" fill="#98dee9"/>
<circle cx="576.4" cy="296.1" r="2.8" fill="#98dee9"/>
<circle cx="742.1" cy="296.1" r="2.8" fill="#847bb1"/>
<circle cx="112.5" cy="296.1" r="2.5" fill="#e92f40"/>
<circle cx="460.5" cy="296.1" r="2.5" fill="#70cecb"/>
<circle cx="543.3" cy="296.1" r="2.5" fill="#98dee9"/>
<circle cx="593.0" cy="296.1" r="2.5" fill="#c2cae7"/>
<circle cx="609.6" cy="296.1" r="2.5" fill="#c2cae7"/>
<circle cx="626.1" cy="296.1" r="2.5" fill="#c2cae7"/>
<circle cx="692.4" cy="296.1" r="2.5" fill="#aca8d6"/>
<circle cx="709.0" cy="296.1" r="2.5" fill="#aca8d6"/>
<circle cx="775.3" cy="296.1" r="2.5" fill="#847bb1"/>
<circle cx="874.7" cy="296.1" r="2.5" fill="#febcd1"/>
<circle cx="129.1" cy="296.1" r="2.3" fill="#e92f40"/>
<circle cx="211.9" cy="296.1" r="2.3" fill="#fdac36"/>
<circle cx="278.2" cy="296.1" r="2.3" fill="#fdac36"/>
<circle cx="294.8" cy="296.1" r="2.3" fill="#fad54e"/>
<circle cx="327.9" cy="296.1" r="2.3" fill="#fad54e"/>
<circle cx="377.6" cy="296.1" r="2.3" fill="#6abc6c"/>
<circle cx="394.2" cy="296.1" r="2.3" fill="#6abc6c"/>
<circle cx="410.8" cy="296.1" r="2.3" fill="#6abc6c"/>
<circle cx="526.7" cy="296.1" r="2.3" fill="#98dee9"/>
<circle cx="659.3" cy="296.1" r="2.3" fill="#aca8d6"/>
<circle cx="294.8" cy="281.3" r="8.5" fill="#fad54e"/>
<circle cx="891.2" cy="281.3" r="4.8" fill="#febcd1"/>
<circle cx="526.7" cy="281.3" r="4.3" fill="#98dee9"/>
<circle cx="758.7" cy="281.3" r="4.0" fill="#847bb1"/>
<circle cx="808.4" cy="281.3" r="4.0" fill="#c86c8c"/>
<circle cx="791.8" cy="281.3" r="3.8" fill="#847bb1"/>
<circle cx="361.1" cy="281.3" r="3.3" fill="#6abc6c"/>
<circle cx="543.3" cy="281.3" r="3.3" fill="#98dee9"/>
<circle cx="642.7" cy="281.3" r="3.3" fill="#c2cae7"/>
<circle cx="775.3" cy="281.3" r="3.3" fill="#847bb1"/>
<circle cx="162.2" cy="281.3" r="2.8" fill="#fd7b42"/>
<circle cx="261.6" cy="281.3" r="2.8" fill="#fdac36"/>
<circle cx="327.9" cy="281.3" r="2.8" fill="#fad54e"/>
<circle cx="443.9" cy="281.3" r="2.8" fill="#70cecb"/>
<circle cx="609.6" cy="281.3" r="2.8" fill="#c2cae7"/>
<circle cx="626.1" cy="281.3" r="2.8" fill="#c2cae7"/>
<circle cx="675.8" cy="281.3" r="2.8" fill="#aca8d6"/>
<circle cx="742.1" cy="281.3" r="2.8" fill="#847bb1"/>
<circle cx="841.5" cy="281.3" r="2.8" fill="#c86c8c"/>
<circle cx="245.1" cy="281.3" r="2.5" fill="#fdac36"/>
<circle cx="311.4" cy="281.3" r="2.5" fill="#fad54e"/>
<circle cx="460.5" cy="281.3" r="2.5" fill="#70cecb"/>
<circle cx="559.9" cy="281.3" r="2.5" fill="#98dee9"/>
<circle cx="593.0" cy="281.3" r="2.5" fill="#c2cae7"/>
<circle cx="659.3" cy="281.3" r="2.5" fill="#aca8d6"/>
<circle cx="692.4" cy="281.3" r="2.5" fill="#aca8d6"/>
<circle cx="709.0" cy="281.3" r="2.5" fill="#aca8d6"/>
<circle cx="725.6" cy="281.3" r="2.5" fill="#847bb1"/>
<circle cx="825.0" cy="281.3" r="2.5" fill="#c86c8c"/>
<circle cx="874.7" cy="281.3" r="2.5" fill="#febcd1"/>
<circle cx="129.1" cy="281.3" r="2.3" fill="#e92f40"/>
<circle cx="178.8" cy="281.3" r="2.3" fill="#fd7b42"/>
<circle cx="211.9" cy="281.3" r="2.3" fill="#fdac36"/>
<circle cx="278.2" cy="281.3" r="2.3" fill="#fdac36"/>
<circle cx="377.6" cy="281.3" r="2.3" fill="#6abc6c"/>
<circle cx="394.2" cy="281.3" r="2.3" fill="#6abc6c"/>
<circle cx="410.8" cy="281.3" r="2.3" fill="#6abc6c"/>
<circle cx="493.6" cy="281.3" r="2.3" fill="#70cecb"/>
<circle cx="576.4" cy="281.3" r="2.3" fill="#c2cae7"/>
<circle cx="361.1" cy="266.4" r="7.3" fill="#6abc6c"/>
<circle cx="808.4" cy="266.4" r="7.0" fill="#c86c8c"/>
<circle cx="245.1" cy="266.4" r="5.0" fill="#fdac36"/>
<circle cx="841.5" cy="266.4" r="4.8" fill="#c86c8c"/>
<circle cx="626.1" cy="266.4" r="4.5" fill="#c2cae7"/>
<circle cx="410.8" cy="266.4" r="4.0" fill="#6abc6c"/>
<circle cx="443.9" cy="266.4" r="4.0" fill="#70cecb"/>
<circle cx="659.3" cy="266.4" r="3.8" fill="#aca8d6"/>
<circle cx="709.0" cy="266.4" r="3.8" fill="#aca8d6"/>
<circle cx="891.2" cy="266.4" r="3.5" fill="#febcd1"/>
<circle cx="129.1" cy="266.4" r="3.3" fill="#e92f40"/>
<circle cx="692.4" cy="266.4" r="3.3" fill="#aca8d6"/>
<circle cx="725.6" cy="266.4" r="3.3" fill="#847bb1"/>
<circle cx="791.8" cy="266.4" r="3.3" fill="#c86c8c"/>
<circle cx="162.2" cy="266.4" r="2.8" fill="#fd7b42"/>
<circle cx="178.8" cy="266.4" r="2.8" fill="#fd7b42"/>
<circle cx="394.2" cy="266.4" r="2.8" fill="#6abc6c"/>
<circle cx="526.7" cy="266.4" r="2.8" fill="#98dee9"/>
<circle cx="576.4" cy="266.4" r="2.8" fill="#98dee9"/>
<circle cx="609.6" cy="266.4" r="2.8" fill="#c2cae7"/>
<circle cx="294.8" cy="266.4" r="2.5" fill="#fad54e"/>
<circle cx="460.5" cy="266.4" r="2.5" fill="#70cecb"/>
<circle cx="543.3" cy="266.4" r="2.5" fill="#98dee9"/>
<circle cx="593.0" cy="266.4" r="2.5" fill="#c2cae7"/>
<circle cx="642.7" cy="266.4" r="2.5" fill="#c2cae7"/>
<circle cx="675.8" cy="266.4" r="2.5" fill="#aca8d6"/>
<circle cx="758.7" cy="266.4" r="2.5" fill="#847bb1"/>
<circle cx="775.3" cy="266.4" r="2.5" fill="#847bb1"/>
<circle cx="825.0" cy="266.4" r="2.5" fill="#c86c8c"/>
<circle cx="874.7" cy="266.4" r="2.5" fill="#febcd1"/>
<circle cx="211.9" cy="266.4" r="2.3" fill="#fdac36"/>
<circle cx="261.6" cy="266.4" r="2.3" fill="#fdac36"/>
<circle cx="278.2" cy="266.4" r="2.3" fill="#fdac36"/>
<circle cx="311.4" cy="266.4" r="2.3" fill="#fad54e"/>
<circle cx="327.9" cy="266.4" r="2.3" fill="#fad54e"/>
<circle cx="377.6" cy="266.4" r="2.3" fill="#6abc6c"/>
<circle cx="493.6" cy="266.4" r="2.3" fill="#70cecb"/>
<circle cx="559.9" cy="266.4" r="2.3" fill="#98dee9"/>
<circle cx="725.6" cy="251.6" r="17.8" fill="#847bb1"/>
<circle cx="493.6" cy="251.6" r="9.5" fill="#70cecb"/>
<circle cx="609.6" cy="251.6" r="9.5" fill="#c2cae7"/>
<circle cx="626.1" cy="251.6" r="8.8" fill="#c2cae7"/>
<circle cx="344.5" cy="281.3" r="26.8" fill="#fad54e"/>
<circle cx="775.3" cy="251.6" r="3.8" fill="#847bb1"/>
<circle cx="361.1" cy="251.6" r="3.3" fill="#fad54e"/>
<circle cx="576.4" cy="251.6" r="3.3" fill="#c2cae7"/>
<circle cx="791.8" cy="251.6" r="3.3" fill="#c86c8c"/>
<circle cx="211.9" cy="251.6" r="3.0" fill="#fdac36"/>
<circle cx="162.2" cy="251.6" r="2.8" fill="#fd7b42"/>
<circle cx="178.8" cy="251.6" r="2.8" fill="#fd7b42"/>
<circle cx="245.1" cy="251.6" r="2.8" fill="#fdac36"/>
<circle cx="294.8" cy="251.6" r="2.8" fill="#fad54e"/>
<circle cx="377.6" cy="251.6" r="2.8" fill="#6abc6c"/>
<circle cx="394.2" cy="251.6" r="2.8" fill="#6abc6c"/>
<circle cx="874.7" cy="251.6" r="2.8" fill="#febcd1"/>
<circle cx="593.0" cy="251.6" r="2.5" fill="#c2cae7"/>
<circle cx="659.3" cy="251.6" r="2.5" fill="#aca8d6"/>
<circle cx="675.8" cy="251.6" r="2.5" fill="#aca8d6"/>
<circle cx="692.4" cy="251.6" r="2.5" fill="#aca8d6"/>
<circle cx="709.0" cy="251.6" r="2.5" fill="#aca8d6"/>
<circle cx="742.1" cy="251.6" r="2.5" fill="#847bb1"/>
<circle cx="758.7" cy="251.6" r="2.5" fill="#847bb1"/>
<circle cx="808.4" cy="251.6" r="2.5" fill="#c86c8c"/>
<circle cx="825.0" cy="251.6" r="2.5" fill="#c86c8c"/>
<circle cx="841.5" cy="251.6" r="2.5" fill="#c86c8c"/>
<circle cx="129.1" cy="251.6" r="2.3" fill="#e92f40"/>
<circle cx="278.2" cy="251.6" r="2.3" fill="#fdac36"/>
<circle cx="311.4" cy="251.6" r="2.3" fill="#fad54e"/>
<circle cx="327.9" cy="251.6" r="2.3" fill="#fad54e"/>
<circle cx="410.8" cy="251.6" r="2.3" fill="#6abc6c"/>
<circle cx="443.9" cy="251.6" r="2.3" fill="#70cecb"/>
<circle cx="460.5" cy="251.6" r="2.3" fill="#70cecb"/>
<circle cx="526.7" cy="251.6" r="2.3" fill="#98dee9"/>
<circle cx="543.3" cy="251.6" r="2.3" fill="#98dee9"/>
<circle cx="559.9" cy="251.6" r="2.3" fill="#98dee9"/>
<circle cx="742.1" cy="266.4" r="8.0" fill="#847bb1"/>
<circle cx="692.4" cy="236.7" r="10.8" fill="#aca8d6"/>
<circle cx="526.7" cy="236.7" r="7.5" fill="#98dee9"/>
<circle cx="410.8" cy="236.7" r="5.8" fill="#6abc6c"/>
<circle cx="129.1" cy="236.7" r="4.0" fill="#e92f40"/>
<circle cx="162.2" cy="236.7" r="3.5" fill="#fd7b42"/>
<circle cx="361.1" cy="236.7" r="3.3" fill="#6abc6c"/>
<circle cx="377.6" cy="236.7" r="3.3" fill="#6abc6c"/>
<circle cx="825.0" cy="236.7" r="3.3" fill="#c86c8c"/>
<circle cx="178.8" cy="236.7" r="3.0" fill="#fd7b42"/>
<circle cx="294.8" cy="236.7" r="3.0" fill="#fad54e"/>
<circle cx="808.4" cy="236.7" r="3.0" fill="#c86c8c"/>
<circle cx="874.7" cy="236.7" r="3.0" fill="#febcd1"/>
<circle cx="245.1" cy="236.7" r="2.8" fill="#fdac36"/>
<circle cx="327.9" cy="236.7" r="2.8" fill="#fad54e"/>
<circle cx="576.4" cy="236.7" r="2.8" fill="#c2cae7"/>
<circle cx="758.7" cy="236.7" r="2.8" fill="#847bb1"/>
<circle cx="791.8" cy="236.7" r="2.8" fill="#847bb1"/>
<circle cx="278.2" cy="236.7" r="2.5" fill="#fdac36"/>
<circle cx="311.4" cy="236.7" r="2.5" fill="#fad54e"/>
<circle cx="593.0" cy="236.7" r="2.5" fill="#c2cae7"/>
<circle cx="609.6" cy="236.7" r="2.5" fill="#c2cae7"/>
<circle cx="659.3" cy="236.7" r="2.5" fill="#aca8d6"/>
<circle cx="675.8" cy="236.7" r="2.5" fill="#aca8d6"/>
<circle cx="709.0" cy="236.7" r="2.5" fill="#aca8d6"/>
<circle cx="725.6" cy="236.7" r="2.5" fill="#847bb1"/>
<circle cx="742.1" cy="236.7" r="2.5" fill="#847bb1"/>
<circle cx="775.3" cy="236.7" r="2.5" fill="#847bb1"/>
<circle cx="841.5" cy="236.7" r="2.5" fill="#c86c8c"/>
<circle cx="211.9" cy="236.7" r="2.3" fill="#fdac36"/>
<circle cx="394.2" cy="236.7" r="2.3" fill="#6abc6c"/>
<circle cx="443.9" cy="236.7" r="2.3" fill="#70cecb"/>
<circle cx="460.5" cy="236.7" r="2.3" fill="#70cecb"/>
<circle cx="394.2" cy="221.8" r="13.3" fill="#6abc6c"/>
<circle cx="576.4" cy="221.8" r="12.8" fill="#c2cae7"/>
<circle cx="278.2" cy="221.8" r="11.3" fill="#fdac36"/>
<circle cx="178.8" cy="221.8" r="10.0" fill="#fd7b42"/>
<circle cx="709.0" cy="221.8" r="9.0" fill="#aca8d6"/>
<circle cx="410.8" cy="221.8" r="6.0" fill="#6abc6c"/>
<circle cx="443.9" cy="221.8" r="5.5" fill="#70cecb"/>
<circle cx="211.9" cy="221.8" r="5.0" fill="#fdac36"/>
<circle cx="808.4" cy="221.8" r="3.8" fill="#c86c8c"/>
<circle cx="758.7" cy="221.8" r="3.3" fill="#847bb1"/>
<circle cx="245.1" cy="221.8" r="3.0" fill="#fdac36"/>
<circle cx="162.2" cy="221.8" r="2.8" fill="#fd7b42"/>
<circle cx="361.1" cy="221.8" r="2.8" fill="#6abc6c"/>
<circle cx="460.5" cy="221.8" r="2.8" fill="#70cecb"/>
<circle cx="675.8" cy="221.8" r="2.8" fill="#aca8d6"/>
<circle cx="742.1" cy="221.8" r="2.8" fill="#847bb1"/>
<circle cx="311.4" cy="221.8" r="2.5" fill="#fad54e"/>
<circle cx="327.9" cy="221.8" r="2.5" fill="#fad54e"/>
<circle cx="526.7" cy="221.8" r="2.5" fill="#98dee9"/>
<circle cx="593.0" cy="221.8" r="2.5" fill="#c2cae7"/>
<circle cx="609.6" cy="221.8" r="2.5" fill="#c2cae7"/>
<circle cx="692.4" cy="221.8" r="2.5" fill="#aca8d6"/>
<circle cx="725.6" cy="221.8" r="2.5" fill="#847bb1"/>
<circle cx="775.3" cy="221.8" r="2.5" fill="#847bb1"/>
<circle cx="791.8" cy="221.8" r="2.5" fill="#c86c8c"/>
<circle cx="825.0" cy="221.8" r="2.5" fill="#c86c8c"/>
<circle cx="841.5" cy="221.8" r="2.5" fill="#c86c8c"/>
<circle cx="874.7" cy="221.8" r="2.5" fill="#febcd1"/>
<circle cx="129.1" cy="221.8" r="2.3" fill="#e92f40"/>
<circle cx="294.8" cy="221.8" r="2.3" fill="#fad54e"/>
<circle cx="377.6" cy="221.8" r="2.3" fill="#6abc6c"/>
<circle cx="593.0" cy="207.0" r="9.0" fill="#c2cae7"/>
<circle cx="841.5" cy="207.0" r="8.8" fill="#c86c8c"/>
<circle cx="311.4" cy="207.0" r="6.8" fill="#fad54e"/>
<circle cx="211.9" cy="207.0" r="3.5" fill="#fd7b42"/>
<circle cx="791.8" cy="207.0" r="3.3" fill="#847bb1"/>
<circle cx="394.2" cy="207.0" r="3.0" fill="#6abc6c"/>
<circle cx="443.9" cy="207.0" r="3.0" fill="#70cecb"/>
<circle cx="162.2" cy="207.0" r="2.8" fill="#fd7b42"/>
<circle cx="278.2" cy="207.0" r="2.8" fill="#fdac36"/>
<circle cx="576.4" cy="207.0" r="2.8" fill="#c2cae7"/>
<circle cx="327.9" cy="207.0" r="2.5" fill="#fad54e"/>
<circle cx="460.5" cy="207.0" r="2.5" fill="#70cecb"/>
<circle cx="526.7" cy="207.0" r="2.5" fill="#98dee9"/>
<circle cx="609.6" cy="207.0" r="2.5" fill="#c2cae7"/>
<circle cx="675.8" cy="207.0" r="2.5" fill="#aca8d6"/>
<circle cx="692.4" cy="207.0" r="2.5" fill="#aca8d6"/>
<circle cx="709.0" cy="207.0" r="2.5" fill="#aca8d6"/>
<circle cx="725.6" cy="207.0" r="2.5" fill="#847bb1"/>
<circle cx="775.3" cy="207.0" r="2.5" fill="#847bb1"/>
<circle cx="808.4" cy="207.0" r="2.5" fill="#c86c8c"/>
<circle cx="825.0" cy="207.0" r="2.5" fill="#c86c8c"/>
<circle cx="129.1" cy="207.0" r="2.3" fill="#e92f40"/>
<circle cx="178.8" cy="207.0" r="2.3" fill="#fd7b42"/>
<circle cx="245.1" cy="207.0" r="2.3" fill="#fdac36"/>
<circle cx="361.1" cy="207.0" r="2.3" fill="#6abc6c"/>
<circle cx="377.6" cy="207.0" r="2.3" fill="#6abc6c"/>
<circle cx="410.8" cy="207.0" r="2.3" fill="#6abc6c"/>
<circle cx="825.0" cy="192.1" r="11.3" fill="#c86c8c"/>
<circle cx="692.4" cy="192.1" r="8.0" fill="#aca8d6"/>
<circle cx="162.2" cy="192.1" r="7.0" fill="#fd7b42"/>
<circle cx="775.3" cy="192.1" r="6.8" fill="#847bb1"/>
<circle cx="841.5" cy="192.1" r="6.5" fill="#c86c8c"/>
<circle cx="609.6" cy="192.1" r="5.3" fill="#c2cae7"/>
<circle cx="361.1" cy="192.1" r="3.3" fill="#6abc6c"/>
<circle cx="377.6" cy="192.1" r="3.3" fill="#6abc6c"/>
<circle cx="725.6" cy="192.1" r="3.0" fill="#847bb1"/>
<circle cx="410.8" cy="192.1" r="2.8" fill="#6abc6c"/>
<circle cx="443.9" cy="192.1" r="2.8" fill="#70cecb"/>
<circle cx="593.0" cy="192.1" r="2.8" fill="#c2cae7"/>
<circle cx="327.9" cy="192.1" r="2.5" fill="#fad54e"/>
<circle cx="394.2" cy="192.1" r="2.5" fill="#6abc6c"/>
<circle cx="675.8" cy="192.1" r="2.5" fill="#aca8d6"/>
<circle cx="791.8" cy="192.1" r="2.5" fill="#847bb1"/>
<circle cx="808.4" cy="192.1" r="2.5" fill="#c86c8c"/>
<circle cx="211.9" cy="192.1" r="2.3" fill="#fdac36"/>
<circle cx="245.1" cy="192.1" r="2.3" fill="#fdac36"/>
<circle cx="278.2" cy="192.1" r="2.3" fill="#fdac36"/>
<circle cx="311.4" cy="192.1" r="2.3" fill="#fad54e"/>
<circle cx="394.2" cy="177.2" r="2.3" fill="#6abc6c"/>
<circle cx="410.8" cy="177.2" r="18.5" fill="#6abc6c"/>
<circle cx="775.3" cy="177.2" r="6.5" fill="#847bb1"/>
<circle cx="791.8" cy="177.2" r="4.3" fill="#c86c8c"/>
<circle cx="692.4" cy="177.2" r="3.8" fill="#aca8d6"/>
<circle cx="311.4" cy="177.2" r="3.0" fill="#fad54e"/>
<circle cx="211.9" cy="177.2" r="2.8" fill="#fdac36"/>
<circle cx="361.1" cy="177.2" r="2.8" fill="#6abc6c"/>
<circle cx="443.9" cy="177.2" r="2.8" fill="#70cecb"/>
<circle cx="593.0" cy="177.2" r="2.8" fill="#c2cae7"/>
<circle cx="609.6" cy="177.2" r="2.8" fill="#c2cae7"/>
<circle cx="825.0" cy="177.2" r="2.8" fill="#c86c8c"/>
<circle cx="675.8" cy="177.2" r="2.5" fill="#aca8d6"/>
<circle cx="725.6" cy="177.2" r="2.5" fill="#847bb1"/>
<circle cx="808.4" cy="177.2" r="2.5" fill="#c86c8c"/>
<circle cx="162.2" cy="177.2" r="2.3" fill="#fd7b42"/>
<circle cx="245.1" cy="177.2" r="2.3" fill="#fdac36"/>
<circle cx="327.9" cy="177.2" r="2.3" fill="#fad54e"/>
<circle cx="245.1" cy="162.4" r="8.0" fill="#fdac36"/>
<circle cx="327.9" cy="162.4" r="7.8" fill="#fad54e"/>
<circle cx="825.0" cy="162.4" r="6.0" fill="#c86c8c"/>
<circle cx="593.0" cy="162.4" r="4.0" fill="#c2cae7"/>
<circle cx="211.9" cy="162.4" r="3.3" fill="#fdac36"/>
<circle cx="311.4" cy="162.4" r="2.8" fill="#fad54e"/>
<circle cx="443.9" cy="162.4" r="2.8" fill="#70cecb"/>
<circle cx="609.6" cy="162.4" r="2.8" fill="#c2cae7"/>
<circle cx="361.1" cy="162.4" r="2.5" fill="#6abc6c"/>
<circle cx="394.2" cy="162.4" r="2.5" fill="#6abc6c"/>
<circle cx="791.8" cy="162.4" r="2.5" fill="#c86c8c"/>
<circle cx="311.4" cy="147.5" r="6.3" fill="#fad54e"/>
<circle cx="609.6" cy="147.5" r="6.3" fill="#c2cae7"/>
<circle cx="593.0" cy="147.5" r="4.0" fill="#c2cae7"/>
<circle cx="327.9" cy="147.5" r="3.0" fill="#fad54e"/>
<circle cx="245.1" cy="147.5" r="2.8" fill="#fdac36"/>
<circle cx="394.2" cy="147.5" r="2.5" fill="#6abc6c"/>
<circle cx="443.9" cy="147.5" r="2.5" fill="#70cecb"/>
<circle cx="211.9" cy="147.5" r="2.3" fill="#fdac36"/>
<circle cx="394.2" cy="132.7" r="6.3" fill="#6abc6c"/>
<circle cx="443.9" cy="132.7" r="4.0" fill="#70cecb"/>
<circle cx="327.9" cy="132.7" r="2.5" fill="#fad54e"/>
<circle cx="593.0" cy="132.7" r="2.5" fill="#c2cae7"/>
<circle cx="211.9" cy="132.7" r="2.3" fill="#fdac36"/>
<circle cx="245.1" cy="132.7" r="2.3" fill="#fdac36"/>
<circle cx="311.4" cy="132.7" r="2.3" fill="#fad54e"/>
<circle cx="593.0" cy="117.8" r="3.0" fill="#c2cae7"/>
<circle cx="211.9" cy="117.8" r="2.3" fill="#fdac36"/>
<circle cx="245.1" cy="117.8" r="2.3" fill="#fdac36"/>
<circle cx="311.4" cy="117.8" r="2.3" fill="#fad54e"/>
<circle cx="211.9" cy="102.9" r="5.0" fill="#fdac36"/>
<circle cx="245.1" cy="102.9" r="2.3" fill="#fdac36"/>
<circle cx="311.4" cy="102.9" r="2.3" fill="#fad54e"/>
<circle cx="211.9" cy="88.1" r="9.5" fill="#fdac36"/>
<circle cx="311.4" cy="88.1" r="5.3" fill="#fad54e"/>
<circle cx="245.1" cy="88.1" r="4.0" fill="#fdac36"/>
<circle cx="245.1" cy="73.2" r="2.8" fill="#fdac36"/>
<circle cx="211.9" cy="73.2" r="2.3" fill="#fdac36"/>
<circle cx="245.1" cy="58.3" r="2.8" fill="#fdac36"/>
<circle cx="245.1" cy="43.5" r="2.8" fill="#fdac36"/>
</svg>
<div class="axis"></div>
<div class="mn" style="left:87.2px">Jan</div>
<div class="bar" style="left:100.0px;height:99.7px;background:#EC4A58"></div>
<div class="bv" style="left:86.7px;top:568.3px;color:#EC4A58">51</div>
<div class="mn" style="left:160.9px">Feb</div>
<div class="bar" style="left:172.1px;height:86.0px;background:#FD8C5A"></div>
<div class="bv" style="left:158.8px;top:554.6px;color:#FD8C5A">44</div>
<div class="mn" style="left:226.9px">Mar</div>
<div class="bar" style="left:244.1px;height:173.9px;background:#FDB750"></div>
<div class="bv" style="left:230.8px;top:642.5px;color:#FDB750">89</div>
<div class="mn" style="left:300.3px">Apr</div>
<div class="bar" style="left:316.1px;height:138.7px;background:#FBDA65"></div>
<div class="bv" style="left:302.8px;top:607.3px;color:#FBDA65">71</div>
<div class="mn" style="left:370.6px">May</div>
<div class="bar" style="left:388.2px;height:162.2px;background:#7DC57F"></div>
<div class="bv" style="left:374.9px;top:630.8px;color:#7DC57F">83</div>
<div class="mn" style="left:444.6px">Jun</div>
<div class="bar" style="left:460.2px;height:115.3px;background:#82D4D2"></div>
<div class="bv" style="left:446.9px;top:583.9px;color:#82D4D2">59</div>
<div class="mn" style="left:515.6px">Jul</div>
<div class="bar" style="left:532.3px;height:103.6px;background:#A5E2EC"></div>
<div class="bv" style="left:519.0px;top:572.2px;color:#A5E2EC">53</div>
<div class="mn" style="left:588.7px">Aug</div>
<div class="bar" style="left:604.3px;height:156.3px;background:#CAD1EA"></div>
<div class="bv" style="left:591.0px;top:624.9px;color:#CAD1EA">80</div>
<div class="mn" style="left:662.2px">Sep</div>
<div class="bar" style="left:676.4px;height:132.9px;background:#B7B3DB"></div>
<div class="bv" style="left:663.1px;top:601.5px;color:#B7B3DB">68</div>
<div class="mn" style="left:733.2px">Oct</div>
<div class="bar" style="left:748.4px;height:138.7px;background:#948CBB"></div>
<div class="bv" style="left:735.1px;top:607.3px;color:#6B6699">71</div>
<div class="mn" style="left:806.3px">Nov</div>
<div class="bar" style="left:820.5px;height:146.5px;background:#CF7F9B"></div>
<div class="bv" style="left:807.2px;top:615.1px;color:#CF7F9B">75</div>
<div class="mn" style="left:877.8px">Dec</div>
<div class="bar" style="left:892.5px;height:86.0px;background:#FEC5D7"></div>
<div class="bv" style="left:879.2px;top:554.6px;color:#FEC5D7">44</div>
</body></html>
